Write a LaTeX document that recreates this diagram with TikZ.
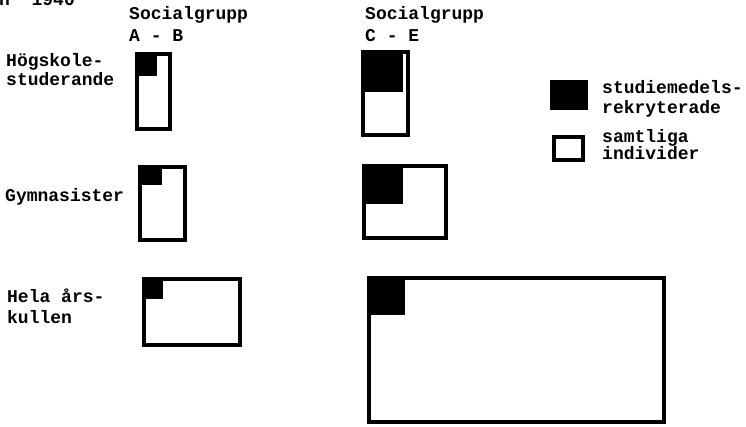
\documentclass[tikz,border=0pt]{standalone}
\usepackage{fontspec}
\setmonofont{Liberation Mono}

\tikzset{
  lbl/.style={anchor=base west, inner sep=0pt, font=\ttfamily\bfseries\fontsize{18}{19}\selectfont},
  frame/.style={line width=4pt},
}

\begin{document}
\begin{tikzpicture}[x=1pt,y=-1pt]
  \useasboundingbox (0,0) rectangle (746,426);
  % title line, cut at the top edge
  \node[lbl] (title) at (-1,5) {n\ \ 1940};
  % column heads
  \node[lbl] (headab) at (129,19) {Socialgrupp};
  \node[lbl] (ab) at (129,41) {A - B};
  \node[lbl] (headce) at (365,19) {Socialgrupp};
  \node[lbl] (ce) at (365,41) {C - E};
  % row labels
  \node[lbl] (hs1) at (6,66) {Högskole-};
  \node[lbl] (hs2) at (6,85) {studerande};
  \node[lbl] (gym) at (5,201) {Gymnasister};
  \node[lbl] (hela1) at (7,302) {Hela års-};
  \node[lbl] (hela2) at (7,323) {kullen};
  % legend
  \fill (550,80) rectangle (588,110);
  \draw[frame] (554,137) rectangle (583,160);
  \node[lbl] (leg1) at (602,93) {studiemedels-};
  \node[lbl] (leg2) at (602,113) {rekryterade};
  \node[lbl] (leg3) at (602,142) {samtliga};
  \node[lbl] (leg4) at (602,159) {individer};
  % hoegskolestuderande
  \fill (135,52) rectangle (157,76);
  \draw[frame] (137,54) rectangle (170,129);
  \fill (361,50) rectangle (403,92);
  \draw[frame] (363,52) rectangle (408,135);
  % gymnasister
  \fill (138,165) rectangle (162,185);
  \draw[frame] (140,167) rectangle (185,240);
  \fill (362,164) rectangle (403,204);
  \draw[frame] (364,166) rectangle (446,238);
  % hela aarskullen
  \fill (142,277) rectangle (163,299);
  \draw[frame] (144,279) rectangle (240,345);
  \fill (367,276) rectangle (405,315);
  \draw[frame] (369,278) rectangle (664,422);
\end{tikzpicture}
\end{document}
